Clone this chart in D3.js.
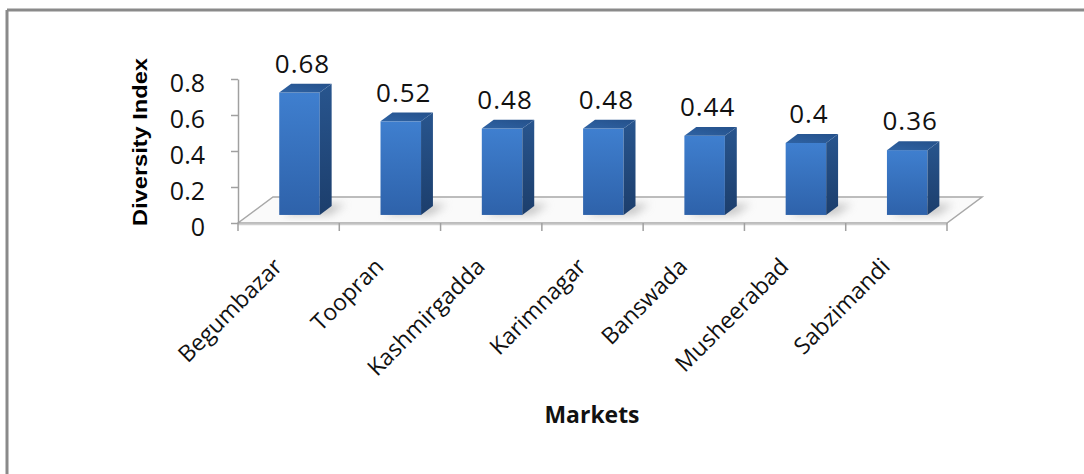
<!DOCTYPE html>
<html>
<head>
<meta charset="utf-8">
<script src="https://cdn.jsdelivr.net/npm/d3@7"></script>
<style>
  html, body { margin: 0; padding: 0; background: #fff; }
  svg { display: block; }
</style>
</head>
<body>
<svg id="chart" width="1084" height="474"></svg>
<script>
// Market names along the category axis
const categories = ["Begumbazar", "Toopran", "Kashmirgadda", "Karimnagar", "Banswada", "Musheerabad", "Sabzimandi"];
// Diversity index for each market
const values = [0.68, 0.52, 0.48, 0.48, 0.44, 0.4, 0.36];
// Value-axis ticks
const yTicks = [0, 0.2, 0.4, 0.6, 0.8];
const yTickLabels = ["0", "0.2", "0.4", "0.6", "0.8"];
const xTitle = "Markets";
const yTitle = "Diversity Index";

const svg = d3.select("#chart");
const W = 1084, H = 474;

// chart frame (top and left edges)
svg.append("line").attr("x1", 7).attr("y1", 10).attr("x2", W).attr("y2", 10)
  .attr("stroke", "#8a8a8a").attr("stroke-width", 3);
svg.append("line").attr("x1", 7).attr("y1", 10).attr("x2", 7).attr("y2", H)
  .attr("stroke", "#8a8a8a").attr("stroke-width", 3);

const x = d3.scaleBand().domain(categories).range([238, 947]).paddingInner(0).paddingOuter(0);
const y = d3.scaleLinear().domain([0, 0.8]).range([223, 79]);

// 3-D projection: depth vector of the floor
const depth = { dx: 35, dy: -26 };
const barFront = 0.31, barDepth = 0.34;   // fractions of the floor depth
const barWidthFrac = 0.4, barOffsetFrac = 0.3;

const defs = svg.append("defs");
const gFront = defs.append("linearGradient").attr("id", "gFront").attr("x1", 0).attr("y1", 0).attr("x2", 0).attr("y2", 1);
gFront.append("stop").attr("offset", "0%").attr("stop-color", "#3f7fcf");
gFront.append("stop").attr("offset", "100%").attr("stop-color", "#2e62aa");
const gSide = defs.append("linearGradient").attr("id", "gSide").attr("x1", 0).attr("y1", 0).attr("x2", 0).attr("y2", 1);
gSide.append("stop").attr("offset", "0%").attr("stop-color", "#28558e");
gSide.append("stop").attr("offset", "100%").attr("stop-color", "#1c3e6c");
const gTop = defs.append("linearGradient").attr("id", "gTop").attr("x1", 0).attr("y1", 1).attr("x2", 1).attr("y2", 0);
gTop.append("stop").attr("offset", "0%").attr("stop-color", "#2f63a4");
gTop.append("stop").attr("offset", "100%").attr("stop-color", "#24508a");
defs.append("filter").attr("id", "soft").attr("x", "-50%").attr("y", "-50%").attr("width", "200%").attr("height", "200%")
  .append("feGaussianBlur").attr("stdDeviation", 4);

// floor
const x0 = x.range()[0], x1 = x.range()[1], base = y(0);
const pt = (px, py) => px + "," + py;
svg.append("polygon")
  .attr("points", [pt(x0, base), pt(x1, base), pt(x1 + depth.dx, base + depth.dy), pt(x0 + depth.dx, base + depth.dy)].join(" "))
  .attr("fill", "#fafafa").attr("stroke", "#a8a8a8").attr("stroke-width", 1.5);
svg.append("line").attr("x1", x0).attr("y1", base + 1.5).attr("x2", x1).attr("y2", base + 1.5)
  .attr("stroke", "#d0d0d0").attr("stroke-width", 1.5);

// value axis
const yAxis = d3.axisLeft(y).tickValues(yTicks).tickFormat((d, i) => yTickLabels[i])
  .tickSize(7).tickSizeOuter(0).tickPadding(26);
const yg = svg.append("g").attr("transform", `translate(${x0},0)`).call(yAxis);
yg.select(".domain").attr("stroke", "#a0a0a0").attr("stroke-width", 1.5);
yg.selectAll(".tick line").attr("stroke", "#a0a0a0").attr("stroke-width", 1.5);
yg.selectAll(".tick text").attr("font-family", "'Open Sans', sans-serif").attr("font-size", 25)
  .attr("fill", "#111").attr("dy", "0.5em");

// category boundary ticks
const bounds = categories.map(c => x(c)).concat([x1]);
svg.append("g").selectAll("line").data(bounds).join("line")
  .attr("x1", d => d).attr("x2", d => d).attr("y1", base).attr("y2", base + 8)
  .attr("stroke", "#a0a0a0").attr("stroke-width", 1.5);

// category labels
const xAxis = d3.axisBottom(x).tickSize(0).tickPadding(0);
const xg = svg.append("g").attr("transform", `translate(0,${base})`).call(xAxis);
xg.select(".domain").remove();
xg.selectAll(".tick text")
  .attr("font-family", "'Open Sans', sans-serif").attr("font-size", 23).attr("fill", "#111")
  .attr("text-anchor", "end")
  .attr("transform", "translate(-5,45) rotate(-45)")
  .attr("dy", 0).attr("y", 0);

// bars
const bw = x.bandwidth();
const fdx = depth.dx * barFront, fdy = depth.dy * barFront;
const ddx = depth.dx * barDepth, ddy = depth.dy * barDepth;
const bars = svg.append("g").selectAll("g").data(values.map((v, i) => ({ c: categories[i], v }))).join("g");

bars.each(function (d) {
  const g = d3.select(this);
  const left = x(d.c) + bw * barOffsetFrac + fdx;
  const right = left + bw * barWidthFrac;
  const bottom = base + fdy;
  const top = y(d.v) + fdy;
  // soft shadow on the floor
  g.append("polygon")
    .attr("points", [pt(left + 4, bottom), pt(right + 10, bottom), pt(right + ddx + 14, bottom + ddy - 2), pt(left + ddx + 6, bottom + ddy - 2)].join(" "))
    .attr("fill", "#9a9a9a").attr("opacity", 0.55).attr("filter", "url(#soft)");
  g.append("rect").attr("x", left).attr("y", top).attr("width", right - left).attr("height", bottom - top)
    .attr("fill", "url(#gFront)");
  g.append("polygon")
    .attr("points", [pt(right, top), pt(right + ddx, top + ddy), pt(right + ddx, bottom + ddy), pt(right, bottom)].join(" "))
    .attr("fill", "url(#gSide)");
  g.append("polygon")
    .attr("points", [pt(left, top), pt(right, top), pt(right + ddx, top + ddy), pt(left + ddx, top + ddy)].join(" "))
    .attr("fill", "url(#gTop)");
  // data label
  g.append("text")
    .attr("x", (left + right) / 2 + 3).attr("y", top + ddy - 11)
    .attr("text-anchor", "middle")
    .attr("font-family", "'Open Sans', sans-serif").attr("font-size", 26).attr("fill", "#111")
    .attr("letter-spacing", 1)
    .text(d.v);
});

// axis titles
svg.append("text")
  .attr("transform", "translate(147,142) rotate(-90)")
  .attr("text-anchor", "middle")
  .attr("font-family", "'Liberation Sans', Arial, sans-serif").attr("font-weight", "bold")
  .attr("font-size", 20).attr("fill", "#000")
  .attr("textLength", 168).attr("lengthAdjust", "spacingAndGlyphs")
  .text(yTitle);
svg.append("text")
  .attr("x", 592).attr("y", 423)
  .attr("text-anchor", "middle")
  .attr("font-family", "'Open Sans', sans-serif").attr("font-weight", "bold")
  .attr("font-size", 24).attr("fill", "#111")
  .attr("textLength", 95).attr("lengthAdjust", "spacingAndGlyphs")
  .text(xTitle);
</script>
</body>
</html>
